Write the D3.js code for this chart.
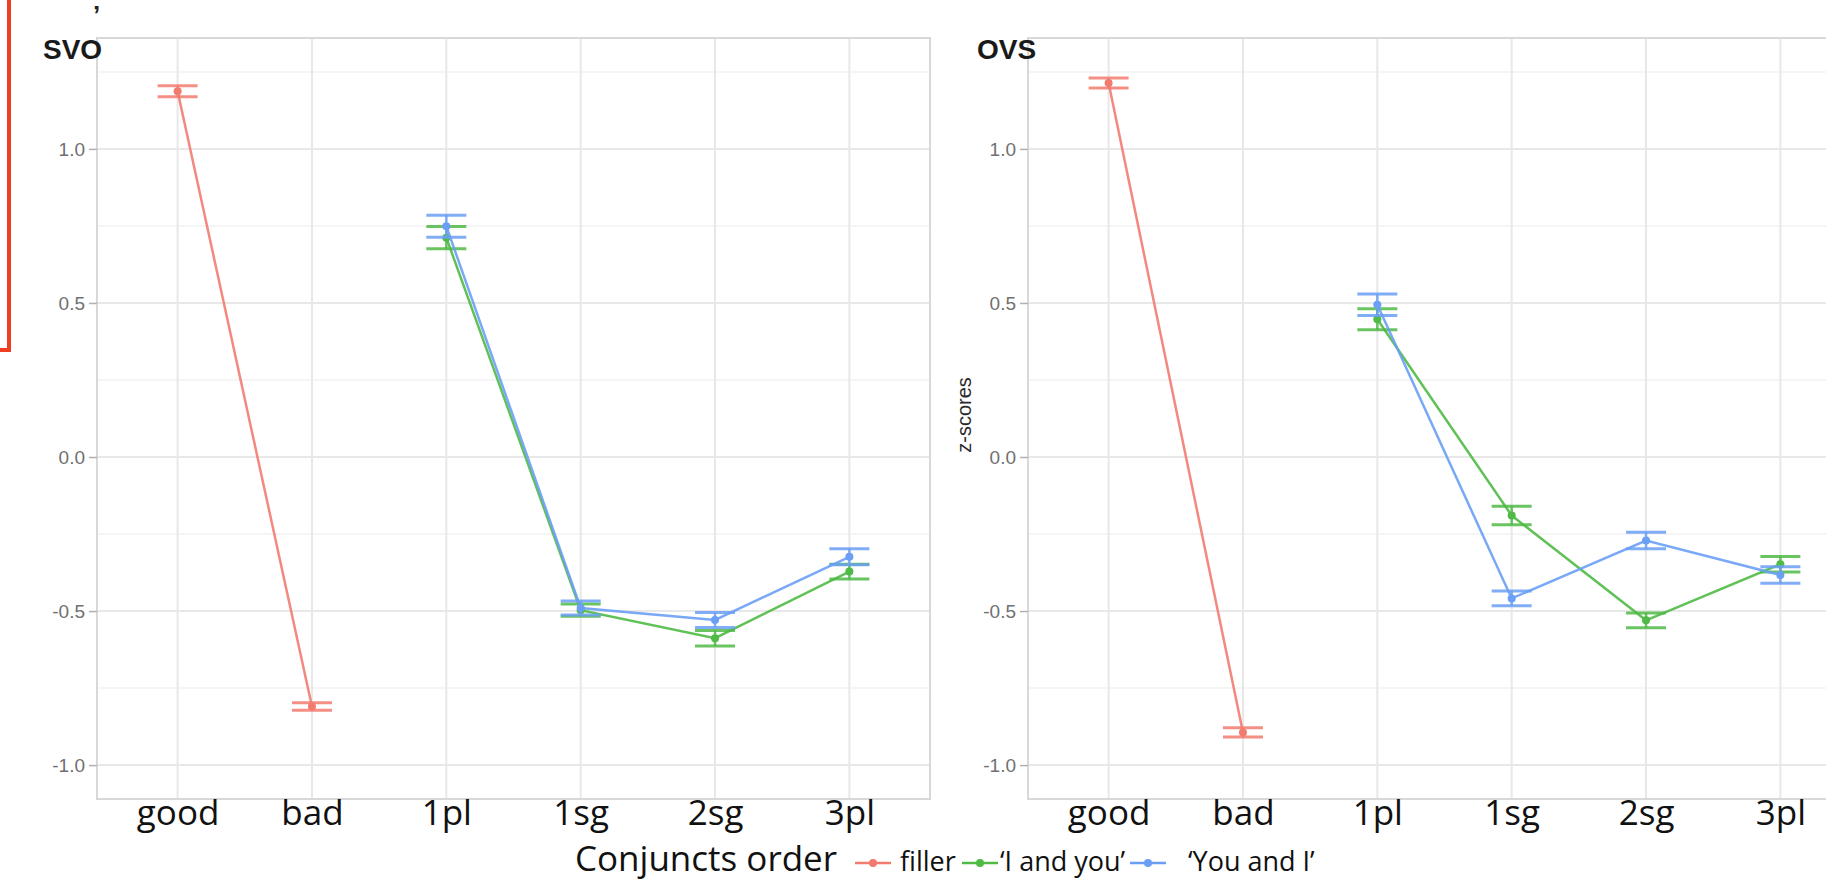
<!DOCTYPE html>
<html>
<head>
<meta charset="utf-8">
<script src="https://cdn.jsdelivr.net/npm/d3@7"></script>
<style>
    body { margin: 0; background: #fff; overflow: hidden; }
    .tick-y { font-family: "Liberation Sans", Arial, sans-serif; font-size: 19px; fill: #707070; }
    .tick-x { font-family: "Open Sans", "Noto Sans", sans-serif; font-size: 35px; fill: #111; }
    .panel-title { font-family: "Liberation Sans", Arial, sans-serif; font-size: 28px; font-weight: bold; fill: #1a1a1a; }
    .legend-text { font-family: "Open Sans", "Noto Sans", sans-serif; fill: #111; }
</style>
</head>
<body>
<div id="chart"></div>
<script>
// categories on the x axis
var categories = ["good", "bad", "1pl", "1sg", "2sg", "3pl"];
var fillerCats = ["good", "bad"];
var conjCats = ["1pl", "1sg", "2sg", "3pl"];

// SVO panel (mean z-score and standard error)
var svoFiller = [1.187, -0.810];
var svoFillerSe = [0.018, 0.012];
var svoIandYou = [0.712, -0.497, -0.588, -0.372];
var svoIandYouSe = [0.036, 0.020, 0.025, 0.024];
var svoYouandI = [0.749, -0.490, -0.529, -0.324];
var svoYouandISe = [0.036, 0.023, 0.024, 0.026];

// OVS panel
var ovsFiller = [1.214, -0.894];
var ovsFillerSe = [0.016, 0.015];
var ovsIandYou = [0.447, -0.190, -0.530, -0.348];
var ovsIandYouSe = [0.034, 0.030, 0.024, 0.025];
var ovsYouandI = [0.494, -0.459, -0.271, -0.383];
var ovsYouandISe = [0.035, 0.024, 0.027, 0.027];

var yTicks = [-1.0, -0.5, 0.0, 0.5, 1.0];
var yMinor = [-0.75, -0.25, 0.25, 0.75, 1.25];

var seriesNames = ["filler", "\u2018I and you\u2019", "\u2018You and I\u2019"];
var colors = ["#f27b70", "#4fba45", "#6a9ff5"];

var width = 1826, height = 880;

var svg = d3.select("#chart")
    .append("svg")
    .attr("width", width)
    .attr("height", height);

// shared y scale
var y = d3.scaleLinear()
    .domain([-1.11, 1.36])
    .range([799, 38]);

function drawPanel(left, title, titleX, showYTitle, filler, fillerSe, iy, iySe, yi, yiSe) {
    var panelW = 833;
    var x = d3.scalePoint()
        .domain(categories)
        .range([left, left + panelW])
        .padding(0.6);

    var g = svg.append("g");

    // grid
    g.selectAll(".minor")
        .data(yMinor)
        .enter()
        .append("line")
        .attr("x1", left).attr("x2", left + panelW)
        .attr("y1", d => y(d)).attr("y2", d => y(d))
        .attr("stroke", "#f2f2f2")
        .attr("stroke-width", 1.5);

    g.selectAll(".major")
        .data(yTicks)
        .enter()
        .append("line")
        .attr("x1", left).attr("x2", left + panelW)
        .attr("y1", d => y(d)).attr("y2", d => y(d))
        .attr("stroke", "#e8e8e8")
        .attr("stroke-width", 2);

    g.selectAll(".vgrid")
        .data(categories)
        .enter()
        .append("line")
        .attr("x1", d => x(d)).attr("x2", d => x(d))
        .attr("y1", 38).attr("y2", 799)
        .attr("stroke", "#e8e8e8")
        .attr("stroke-width", 2);

    // panel border
    g.append("rect")
        .attr("x", left)
        .attr("y", 38)
        .attr("width", panelW)
        .attr("height", 761)
        .attr("fill", "none")
        .attr("stroke", "#d8d8d8")
        .attr("stroke-width", 2);

    // y axis
    var yAxis = g.append("g")
        .attr("transform", "translate(" + left + ",0)")
        .call(d3.axisLeft(y).tickValues(yTicks).tickFormat(d3.format(".1f")).tickSize(8).tickPadding(4));
    yAxis.select(".domain").remove();
    yAxis.selectAll(".tick line").attr("stroke", "#b0b0b0").attr("stroke-width", 1.5);
    yAxis.selectAll(".tick text")
        .attr("class", "tick-y")
        .attr("fill", null)
        .text(d => d3.format(".1f")(d).replace("\u2212", "-"));

    // x axis labels
    var xAxis = g.append("g")
        .attr("transform", "translate(0,799)")
        .call(d3.axisBottom(x).tickSize(0).tickPadding(0));
    xAxis.select(".domain").remove();
    xAxis.selectAll(".tick text")
        .attr("class", "tick-x")
        .attr("fill", null)
        .attr("dy", null)
        .attr("y", 26);

    // title
    g.append("text")
        .attr("class", "panel-title")
        .attr("x", titleX)
        .attr("y", 59)
        .text(title);

    if (showYTitle) {
        g.append("text")
            .attr("transform", "translate(" + (left - 57) + ",415) rotate(-90)")
            .attr("text-anchor", "middle")
            .style("font-family", "Liberation Sans, Arial, sans-serif")
            .style("font-size", "20px")
            .style("fill", "#2a2a2a")
            .text("z-scores");
    }

    drawSeries(g, x, fillerCats, filler, fillerSe, colors[0]);
    drawSeries(g, x, conjCats, iy, iySe, colors[1]);
    drawSeries(g, x, conjCats, yi, yiSe, colors[2]);
}

function drawSeries(g, x, cats, values, ses, color) {
    var pts = cats.map((c, i) => ({ c: c, v: values[i], se: ses[i] }));

    g.append("path")
        .datum(pts)
        .attr("fill", "none")
        .attr("stroke", color)
        .attr("stroke-width", 2.5)
        .attr("stroke-opacity", 0.9)
        .attr("d", d3.line().x(d => x(d.c)).y(d => y(d.v)));

    var bars = g.selectAll(null)
        .data(pts)
        .enter()
        .append("g");

    bars.append("line")
        .attr("x1", d => x(d.c)).attr("x2", d => x(d.c))
        .attr("y1", d => y(d.v + d.se)).attr("y2", d => y(d.v - d.se))
        .attr("stroke", color).attr("stroke-width", 2.5).attr("stroke-opacity", 0.85);
    bars.append("line")
        .attr("x1", d => x(d.c) - 20).attr("x2", d => x(d.c) + 20)
        .attr("y1", d => y(d.v + d.se)).attr("y2", d => y(d.v + d.se))
        .attr("stroke", color).attr("stroke-width", 3).attr("stroke-opacity", 0.85);
    bars.append("line")
        .attr("x1", d => x(d.c) - 20).attr("x2", d => x(d.c) + 20)
        .attr("y1", d => y(d.v - d.se)).attr("y2", d => y(d.v - d.se))
        .attr("stroke", color).attr("stroke-width", 3).attr("stroke-opacity", 0.85);

    bars.append("circle")
        .attr("cx", d => x(d.c))
        .attr("cy", d => y(d.v))
        .attr("r", 4)
        .attr("fill", color);
}

drawPanel(97, "SVO", 43, false, svoFiller, svoFillerSe, svoIandYou, svoIandYouSe, svoYouandI, svoYouandISe);
drawPanel(1028, "OVS", 977, true, ovsFiller, ovsFillerSe, ovsIandYou, ovsIandYouSe, ovsYouandI, ovsYouandISe);

// legend (kept just inside the bottom edge)
var legendBase = 871;
var legend = svg.append("g");
legend.append("text")
    .attr("class", "legend-text")
    .attr("x", 575)
    .attr("y", legendBase)
    .style("font-size", "35px")
    .text("Conjuncts order");

var keyX = [873, 980, 1148];
var labelX = [900, 1000, 1188];
for (let i = 0; i < seriesNames.length; i++) {
    addKey(legend, keyX[i], colors[i], seriesNames[i], labelX[i]);
}

function addKey(element, cx, color, label, tx) {
    element.append("line")
        .attr("x1", cx - 18).attr("x2", cx + 18)
        .attr("y1", legendBase - 8).attr("y2", legendBase - 8)
        .attr("stroke", color)
        .attr("stroke-width", 2.5);
    element.append("circle")
        .attr("cx", cx).attr("cy", legendBase - 8)
        .attr("r", 4)
        .attr("fill", color);
    element.append("text")
        .attr("class", "legend-text")
        .attr("x", tx)
        .attr("y", legendBase)
        .style("font-size", "27px")
        .text(label);
}

// leftover marks from the slide: red frame edge and a stray quote
svg.append("path")
    .attr("d", "M9,0 L9,350 L0,350")
    .attr("fill", "none")
    .attr("stroke", "#ee3f22")
    .attr("stroke-width", 4);
svg.append("text")
    .attr("x", 93)
    .attr("y", 24)
    .style("font-family", "Liberation Sans, Arial, sans-serif")
    .style("font-size", "26px")
    .style("font-weight", "bold")
    .style("fill", "#222")
    .text("\u2019");
</script>
</body>
</html>
